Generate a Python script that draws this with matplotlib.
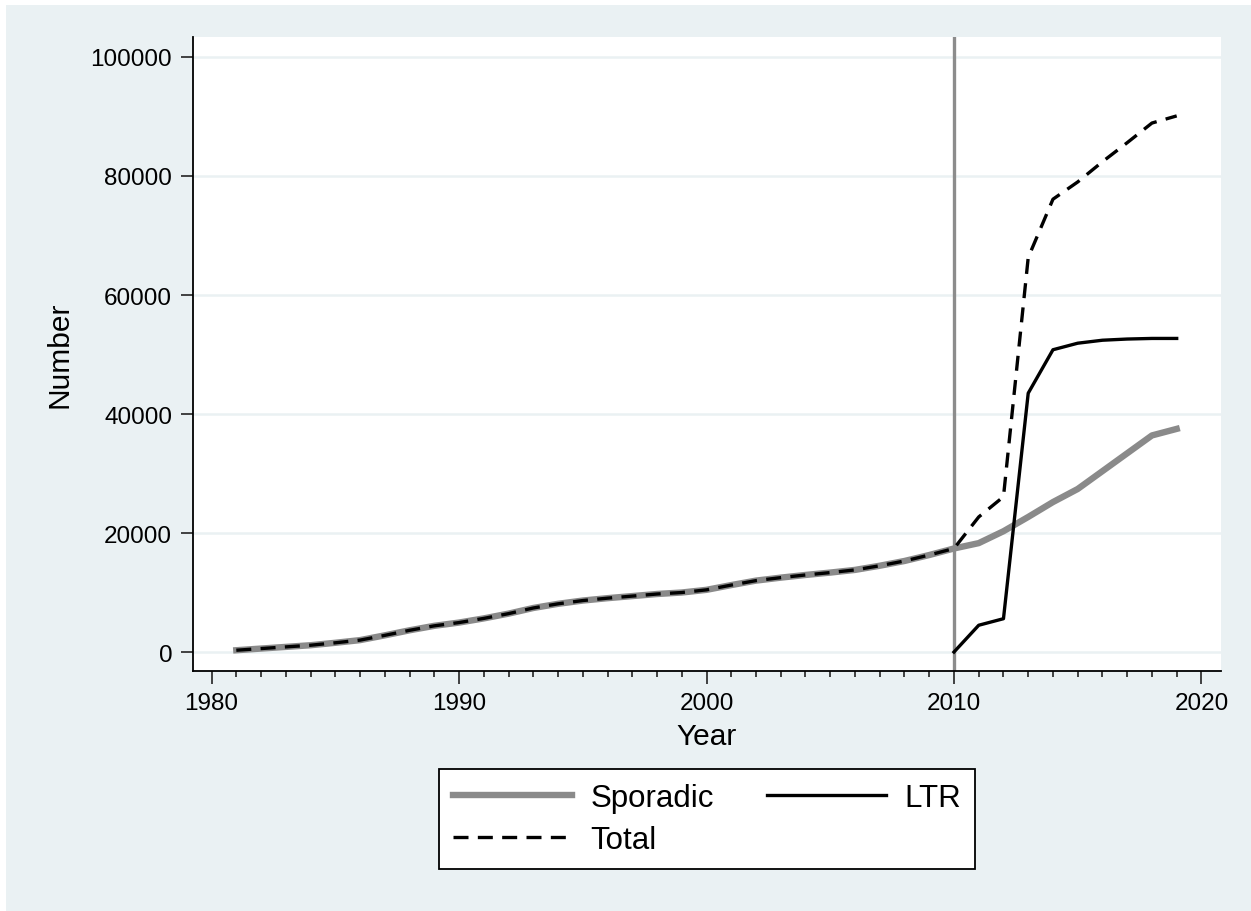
import matplotlib.pyplot as plt
from matplotlib.patches import Rectangle
from matplotlib.ticker import MultipleLocator

plt.rcParams['font.family'] = ['Liberation Sans', 'DejaVu Sans']

years = list(range(1981, 2020))
sporadic = [300, 580, 860, 1140, 1550, 2000, 2800, 3650, 4400, 4950,
            5650, 6450, 7400, 8100, 8650, 9050, 9400, 9750, 10000, 10450,
            11250, 12000, 12500, 12950, 13350, 13800, 14500, 15300, 16300, 17400,
            18300, 20300, 22700, 25200, 27400, 30400, 33400, 36400, 37500]

ltr_years = list(range(2010, 2020))
ltr = [0, 4500, 5600, 43500, 50800, 51900, 52400, 52600, 52700, 52700]

total = sporadic[:29] + [17400, 22700, 26100, 66300, 76100, 79000, 82400, 85600, 88900, 90100]

bg = '#eaf1f3'
fig = plt.figure(figsize=(12.51, 9.12), dpi=100, facecolor='white')
fig.patches.append(Rectangle((6 / 1251, -1), 2, 2 - 6 / 912, transform=fig.transFigure,
                             facecolor=bg, edgecolor='none', zorder=-10))

ax = fig.add_axes([193 / 1251, 1 - 672 / 912, (1221 - 193) / 1251, (672 - 38) / 912])
ax.set_facecolor('white')

ax.axvline(2010, color='#8c8c8c', lw=2.4, zorder=2)
l_spor, = ax.plot(years, sporadic, color='#8a8a8a', lw=4.6, label='Sporadic', zorder=3)
l_ltr, = ax.plot(ltr_years, ltr, color='black', lw=2.4, label='LTR', zorder=4)
l_tot, = ax.plot(years, total, color='black', lw=2.4, ls=(0, (4.5, 2.8)), label='Total', zorder=5)

ax.set_xlim(1979.25, 2020.79)
ax.set_ylim(-3190, 103360)
ax.xaxis.set_major_locator(MultipleLocator(10))
ax.xaxis.set_minor_locator(MultipleLocator(1))
ax.yaxis.set_major_locator(MultipleLocator(20000))
ax.grid(axis='y', color=bg, lw=1.8)
ax.set_axisbelow(True)

for side in ['top', 'right']:
    ax.spines[side].set_visible(False)
for side in ['left', 'bottom']:
    ax.spines[side].set_color('black')
    ax.spines[side].set_linewidth(1.3)

ax.tick_params(axis='both', which='major', length=9, width=1.3, color='#333333',
               labelsize=17.5, pad=6)
ax.tick_params(axis='x', which='minor', length=4.5, width=1.3, color='#333333')

ax.set_xlabel('Year', fontsize=21.5, labelpad=6)
ax.set_ylabel('Number', fontsize=21.5, labelpad=12)

# two columns, filled column-wise: Sporadic / Total on the left, LTR on the right
leg = ax.legend([l_spor, l_tot, l_ltr], ['Sporadic', 'Total', 'LTR'],
                loc='center', bbox_to_anchor=(707 / 1251, 1 - 820 / 912),
                bbox_transform=fig.transFigure, ncol=2, fontsize=22.5,
                handlelength=3.8, handletextpad=0.6, columnspacing=1.7,
                labelspacing=0.4, borderpad=0.45, fancybox=False, framealpha=1,
                edgecolor='black')
leg.get_frame().set_linewidth(1.3)

fig.savefig('out.png', dpi=100, facecolor=fig.get_facecolor())
